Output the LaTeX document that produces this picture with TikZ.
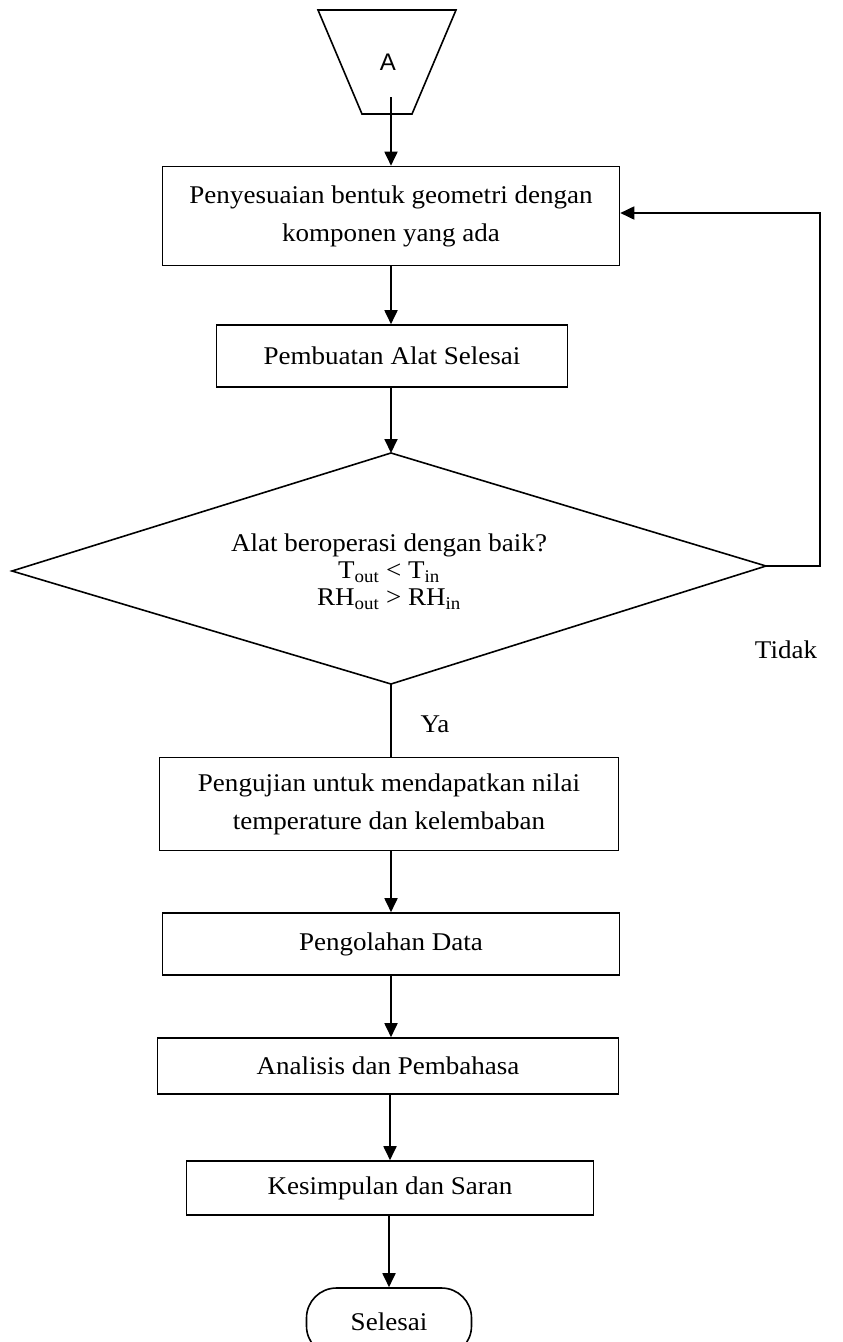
\documentclass[tikz,border=0pt]{standalone}
\usepackage{fontspec}
\setmainfont{Liberation Serif}[FakeStretch=1.06]
\newfontfamily\sansA{Liberation Sans}
\usetikzlibrary{arrows.meta}
\tikzset{
  box/.style={draw, line width=1.6pt, align=center, inner sep=0pt, font=\fontsize{25.5}{38}\selectfont},
  arr/.style={line width=1.8pt, -{Triangle[length=14pt,width=13pt]}},
  ln/.style={line width=1.6pt},
  lbl/.style={font=\fontsize{25.5}{28}\selectfont, inner sep=0pt}
}
\begin{document}
\begin{tikzpicture}[x=1pt,y=-1pt]
\useasboundingbox (0,0) rectangle (843,1342);
% trapezoid connector A
\coordinate (t1) at (318,10);
\coordinate (t2) at (456,10);
\coordinate (t3) at (412,114);
\coordinate (t4) at (362,114);
\draw[ln, line join=miter] (t1) -- (t2) -- (t3) -- (t4) -- cycle;
\node[inner sep=0pt, font=\sansA\fontsize{24}{26}\selectfont] (A) at (388,62) {A};
\coordinate (astart) at (391,97);
% boxes
\node[box, minimum width=457pt, minimum height=99pt] (b1) at (391,216) {Penyesuaian bentuk geometri dengan\\komponen yang ada};
\node[box, minimum width=351pt, minimum height=62pt] (b2) at (392,356) {Pembuatan Alat Selesai};
% diamond
\coordinate (dt) at (391,453);
\coordinate (dr) at (766,566);
\coordinate (db) at (391,684);
\coordinate (dl) at (12,571);
\draw[ln, line join=miter] (dt) -- (dr) -- (db) -- (dl) -- cycle;
\node[lbl, align=center, font=\fontsize{25.5}{27}\selectfont] (dtext) at (389,572) {Alat beroperasi dengan baik?\\T\textsubscript{out} < T\textsubscript{in}\\RH\textsubscript{out} > RH\textsubscript{in}};
\node[box, minimum width=459pt, minimum height=93pt] (b3) at (389,804) {Pengujian untuk mendapatkan nilai\\temperature dan kelembaban};
\node[box, minimum width=457pt, minimum height=62pt] (b4) at (391,944) {Pengolahan Data};
\node[box, minimum width=461pt, minimum height=56pt] (b5) at (388,1066) {Analisis dan Pembahasa};
\node[box, minimum width=407pt, minimum height=54pt] (b6) at (390,1188) {Kesimpulan dan Saran};
\node[box, minimum width=165pt, minimum height=68pt, rounded corners=30pt] (end) at (389,1322) {Selesai};
% labels
\node[lbl] (tidak) at (786,650) {Tidak};
\node[lbl] (ya) at (435,724) {Ya};
% connectors
\draw[arr] (astart) -- (b1.north -| astart);
\draw[arr] (b1.south) -- (b2.north -| b1.south);
\draw[arr] (b2.south -| dt) -- (dt);
\draw[ln] (db) -- (b3.north -| db);
\draw[arr] (b3.south -| b4.north) -- (b4.north);
\draw[arr] (b4.south) -- (b5.north -| b4.south);
\draw[arr] (b5.south -| b6.north) -- (b6.north);
\draw[arr] (b6.south -| end.north) -- (end.north);
\coordinate (fb) at (820,566);
\draw[arr, line join=miter] (dr) -- (fb) |- (b1.east |- 0,213);
\end{tikzpicture}
\end{document}
